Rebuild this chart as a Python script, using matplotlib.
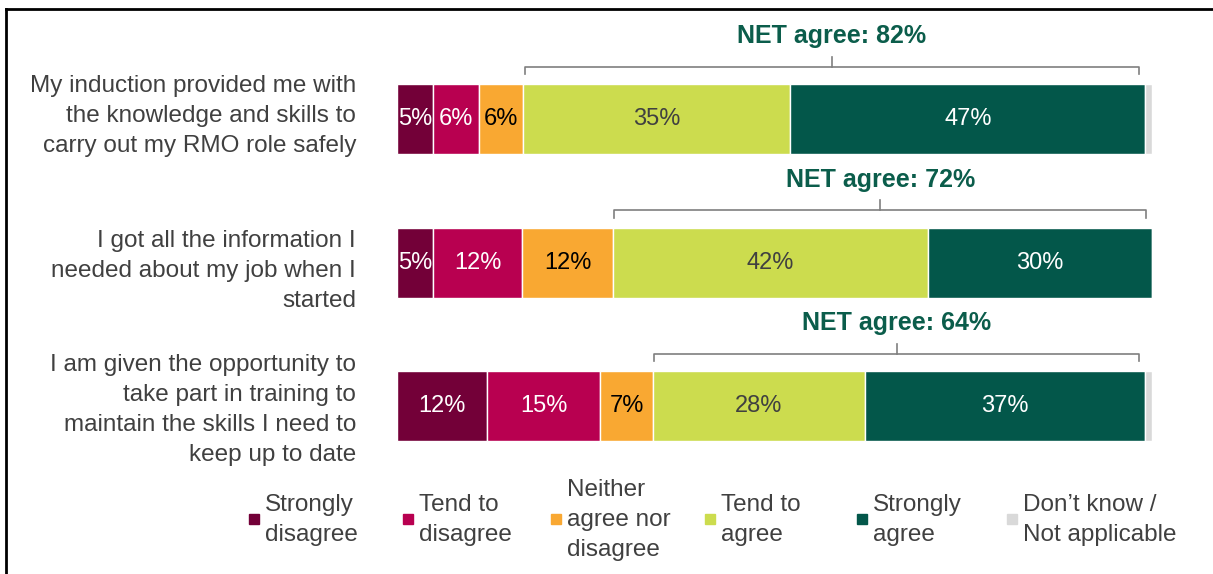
import numpy as np
import matplotlib.pyplot as plt
from matplotlib.lines import Line2D
from matplotlib.patches import Rectangle

plt.rcParams['font.family'] = ['Liberation Sans', 'DejaVu Sans']

# Questions (one row each)
questions = [
    "My induction provided me with\nthe knowledge and skills to\ncarry out my RMO role safely",
    "I got all the information I\nneeded about my job when I\nstarted",
    "I am given the opportunity to\ntake part in training to\nmaintain the skills I need to\nkeep up to date",
]

# Response categories (legend text)
categories = [
    "Strongly\ndisagree",
    "Tend to\ndisagree",
    "Neither\nagree nor\ndisagree",
    "Tend to\nagree",
    "Strongly\nagree",
    "Don\u2019t know /\nNot applicable",
]

# Share of respondents, %
strongly_disagree = [4.8, 4.8, 11.9]
tend_disagree = [6.1, 11.8, 15.0]
neither = [5.8, 12.0, 7.0]
tend_agree = [35.4, 41.7, 28.1]
strongly_agree = [47.0, 29.7, 37.1]
dont_know = [0.9, 0.0, 0.9]
net_agree = [82, 72, 64]

series = [strongly_disagree, tend_disagree, neither, tend_agree, strongly_agree, dont_know]
colors = ["#730038", "#B80050", "#F9A832", "#CCDC4E", "#03574A", "#D9D9D9"]
label_colors = ["white", "white", "black", "#404040", "white", None]

fig = plt.figure(figsize=(12.13, 5.74), dpi=100)
ax = fig.add_axes([397 / 1213, 96 / 574, 755 / 1213, 430.5 / 574])

rows = np.arange(len(questions))
left = np.zeros(len(questions))
for vals, col, lcol in zip(series, colors, label_colors):
    vals = np.array(vals)
    ax.barh(rows, vals, left=left, height=0.49, color=col,
            edgecolor="white", linewidth=1)
    if lcol is not None:
        for r, (v, l) in enumerate(zip(vals, left)):
            if v >= 2:
                ax.text(l + v / 2, r, f"{round(v)}%", ha="center", va="center",
                        color=lcol, fontsize=17)
    left = left + vals

# NET agree brackets
agree_start = np.array(strongly_disagree) + np.array(tend_disagree) + np.array(neither)
agree_end = agree_start + np.array(tend_agree) + np.array(strongly_agree)
for r in rows:
    x0 = agree_start[r] + 0.2
    x1 = agree_end[r] - 0.8
    yb = r - 0.365
    ax.plot([x0, x0, x1, x1], [yb + 0.05, yb, yb, yb + 0.05], color="#7F7F7F",
            linewidth=1.2, clip_on=False, solid_joinstyle="round")
    xm = (x0 + x1) / 2
    ax.plot([xm, xm], [yb, yb - 0.07], color="#7F7F7F", linewidth=1.2, clip_on=False)
    ax.text(xm, yb - 0.215, f"NET agree: {net_agree[r]}%", ha="center", va="center",
            color="#0B5D4B", fontsize=18, fontweight="bold", clip_on=False)

ax.set_xlim(0, 100)
ax.set_ylim(len(questions) - 0.5, -0.5)
# question text sits a little off the bar centre, as in the original
ax.set_yticks(rows + np.array([-0.07, 0.01, -0.02]))
ax.set_yticklabels(questions, fontsize=17.5, color="#404040", linespacing=1.47)
ax.tick_params(axis="y", length=0, pad=29.5)
ax.set_xticks([])
for s in ax.spines.values():
    s.set_visible(False)

# Legend drawn as a row of square markers with wrapped text
leg_x = [254, 408, 556, 710, 862, 1012]
for x, cat, col in zip(leg_x, categories, colors):
    fig.add_artist(Rectangle(((x - 5) / 1213, (574 - 524) / 574), 10 / 1213, 10 / 574,
                             transform=fig.transFigure, color=col))
    fig.text((x + 11) / 1213, (574 - 520) / 574, cat, ha="left", va="center",
             fontsize=17.5, color="#404040", linespacing=1.47)

# Frame lines at top and left
fig.add_artist(Line2D([6 / 1213, 1], [1 - 9 / 574, 1 - 9 / 574], color="black",
                      linewidth=2, transform=fig.transFigure))
fig.add_artist(Line2D([6 / 1213, 6 / 1213], [0, 1 - 9 / 574], color="black",
                      linewidth=2, transform=fig.transFigure))

fig.savefig("out.png", dpi=100)
